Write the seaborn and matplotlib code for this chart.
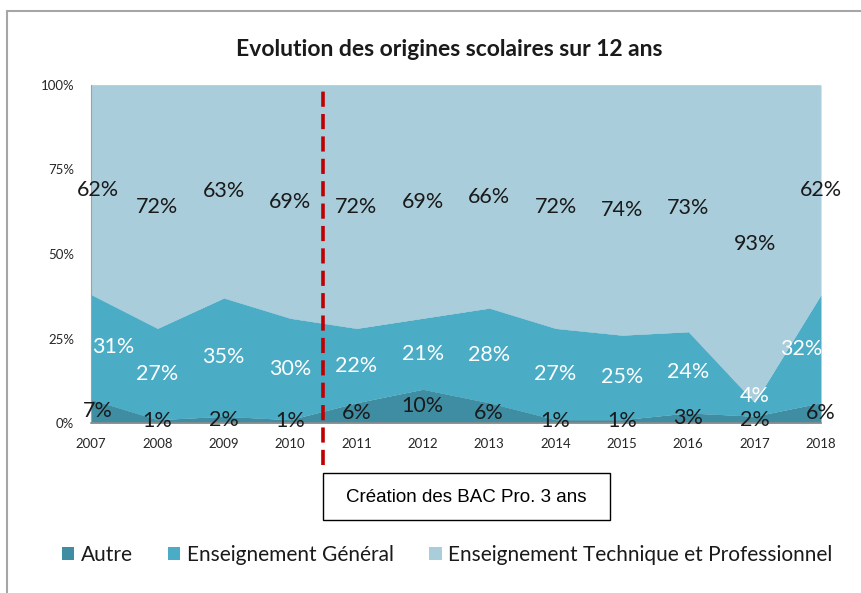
import numpy as np
import pandas as pd
import matplotlib.pyplot as plt
import seaborn as sns
from matplotlib.lines import Line2D
from matplotlib.patches import Rectangle, Patch
from matplotlib.ticker import PercentFormatter

# Données
years = [2007, 2008, 2009, 2010, 2011, 2012, 2013, 2014, 2015, 2016, 2017, 2018]
autre = [7, 1, 2, 1, 6, 10, 6, 1, 1, 3, 2, 6]
general = [31, 27, 35, 30, 22, 21, 28, 27, 25, 24, 4, 32]
technique = [62, 72, 63, 69, 72, 69, 66, 72, 74, 73, 93, 62]
series_names = ['Autre', 'Enseignement Général', 'Enseignement Technique et Professionnel']
colors = ['#3E8DA2', '#4BACC6', '#A9CDDB']

df = pd.DataFrame({'annee': years, series_names[0]: autre,
                   series_names[1]: general, series_names[2]: technique})

# 100% empilé (comme Excel)
vals = df[series_names].to_numpy(dtype=float)
parts = vals / vals.sum(axis=1, keepdims=True)
cum = np.cumsum(parts, axis=1)
low = np.hstack([np.zeros((len(years), 1)), cum[:, :-1]])

sns.set_theme(style='white')
plt.rcParams['font.family'] = ['Lato', 'DejaVu Sans']

fig = plt.figure(figsize=(8.61, 5.93), dpi=100)
ax = fig.add_axes([91 / 861, 1 - 423 / 593, 730 / 861, 338 / 593])

for i, name in enumerate(series_names):
    ax.fill_between(df['annee'], low[:, i], cum[:, i], color=colors[i], lw=0, zorder=1)
    sns.lineplot(x=df['annee'], y=cum[:, i], ax=ax, color=colors[i], lw=0.5, zorder=1)

# Étiquettes
txt_colors = ['#1a1a1a', 'white', '#1a1a1a']
for i, name in enumerate(series_names):
    for j, yr in enumerate(years):
        y = (low[j, i] + cum[j, i]) / 2
        ha = 'center'
        x = yr
        if j == 0:
            x = yr + 0.1
        if i == 1 and j == 0:
            ha, x = 'left', yr + 0.02
        if i == 1 and j == len(years) - 1:
            ha, x = 'right', yr + 0.02
        if i == 1 and vals[j, i] < 6:
            y += 0.04  # décalage pour éviter le chevauchement (2017)
        ax.text(x, y, f'{int(vals[j, i])}%', ha=ha, va='center', fontsize=15.5,
                color=txt_colors[i], zorder=3)

ax.set_xlim(2007, 2018)
ax.set_ylim(0, 1)
ax.set_xticks(years)
ax.set_xticklabels([str(y) for y in years])
ax.set_yticks([0, 0.25, 0.5, 0.75, 1])
ax.yaxis.set_major_formatter(PercentFormatter(1.0, decimals=0))
ax.tick_params(axis='both', length=0, labelsize=9.5, colors='#262626')
ax.tick_params(axis='x', pad=11)
ax.tick_params(axis='y', pad=12)
ax.set_xlabel('')
ax.set_ylabel('')
for s in ['top', 'right']:
    ax.spines[s].set_visible(False)
ax.spines['left'].set_color('#A0A0A0')
ax.spines['left'].set_linewidth(0.8)
ax.spines['bottom'].set_color('#8C8C8C')
ax.spines['bottom'].set_linewidth(1.2)
ax.grid(False)

# Ligne 2010/2011
ax.axvline(2010.5, ymin=-0.125, ymax=1.0, color='#C00000', lw=2.6,
           dashes=(4.2, 2.0), clip_on=False, zorder=4)

# Titre
fig.text(449 / 861, 1 - 50 / 593, 'Evolution des origines scolaires sur 12 ans',
         ha='center', va='center', fontsize=16.5, fontweight='bold', color='#1a1a1a')

# Encadré
fig.patches.append(Rectangle((323 / 861, 1 - 520 / 593), 287 / 861, 47 / 593,
                             transform=fig.transFigure, fill=False, ec='black', lw=1))
fig.text(466 / 861, 1 - 497 / 593, 'Création des BAC Pro. 3 ans', ha='center', va='center',
         fontsize=13.5, family='Liberation Sans', color='black')

# Bordure
fig.lines.append(Line2D([7 / 861, 7 / 861], [0, 1 - 11 / 593], transform=fig.transFigure,
                        color='#A6A6A6', lw=1.5))
fig.lines.append(Line2D([7 / 861, 1], [1 - 11 / 593, 1 - 11 / 593], transform=fig.transFigure,
                        color='#A6A6A6', lw=1.5))

# Légende
handles = [Patch(facecolor=c, edgecolor='none') for c in colors]
fig.legend(handles, series_names, loc='center', bbox_to_anchor=(447 / 861, 1 - 555 / 593),
           ncol=3, frameon=False, fontsize=15, handlelength=0.6, handleheight=0.6,
           handletextpad=0.3, columnspacing=1.7, labelcolor='#1a1a1a')

plt.savefig('out.png', dpi=100)
